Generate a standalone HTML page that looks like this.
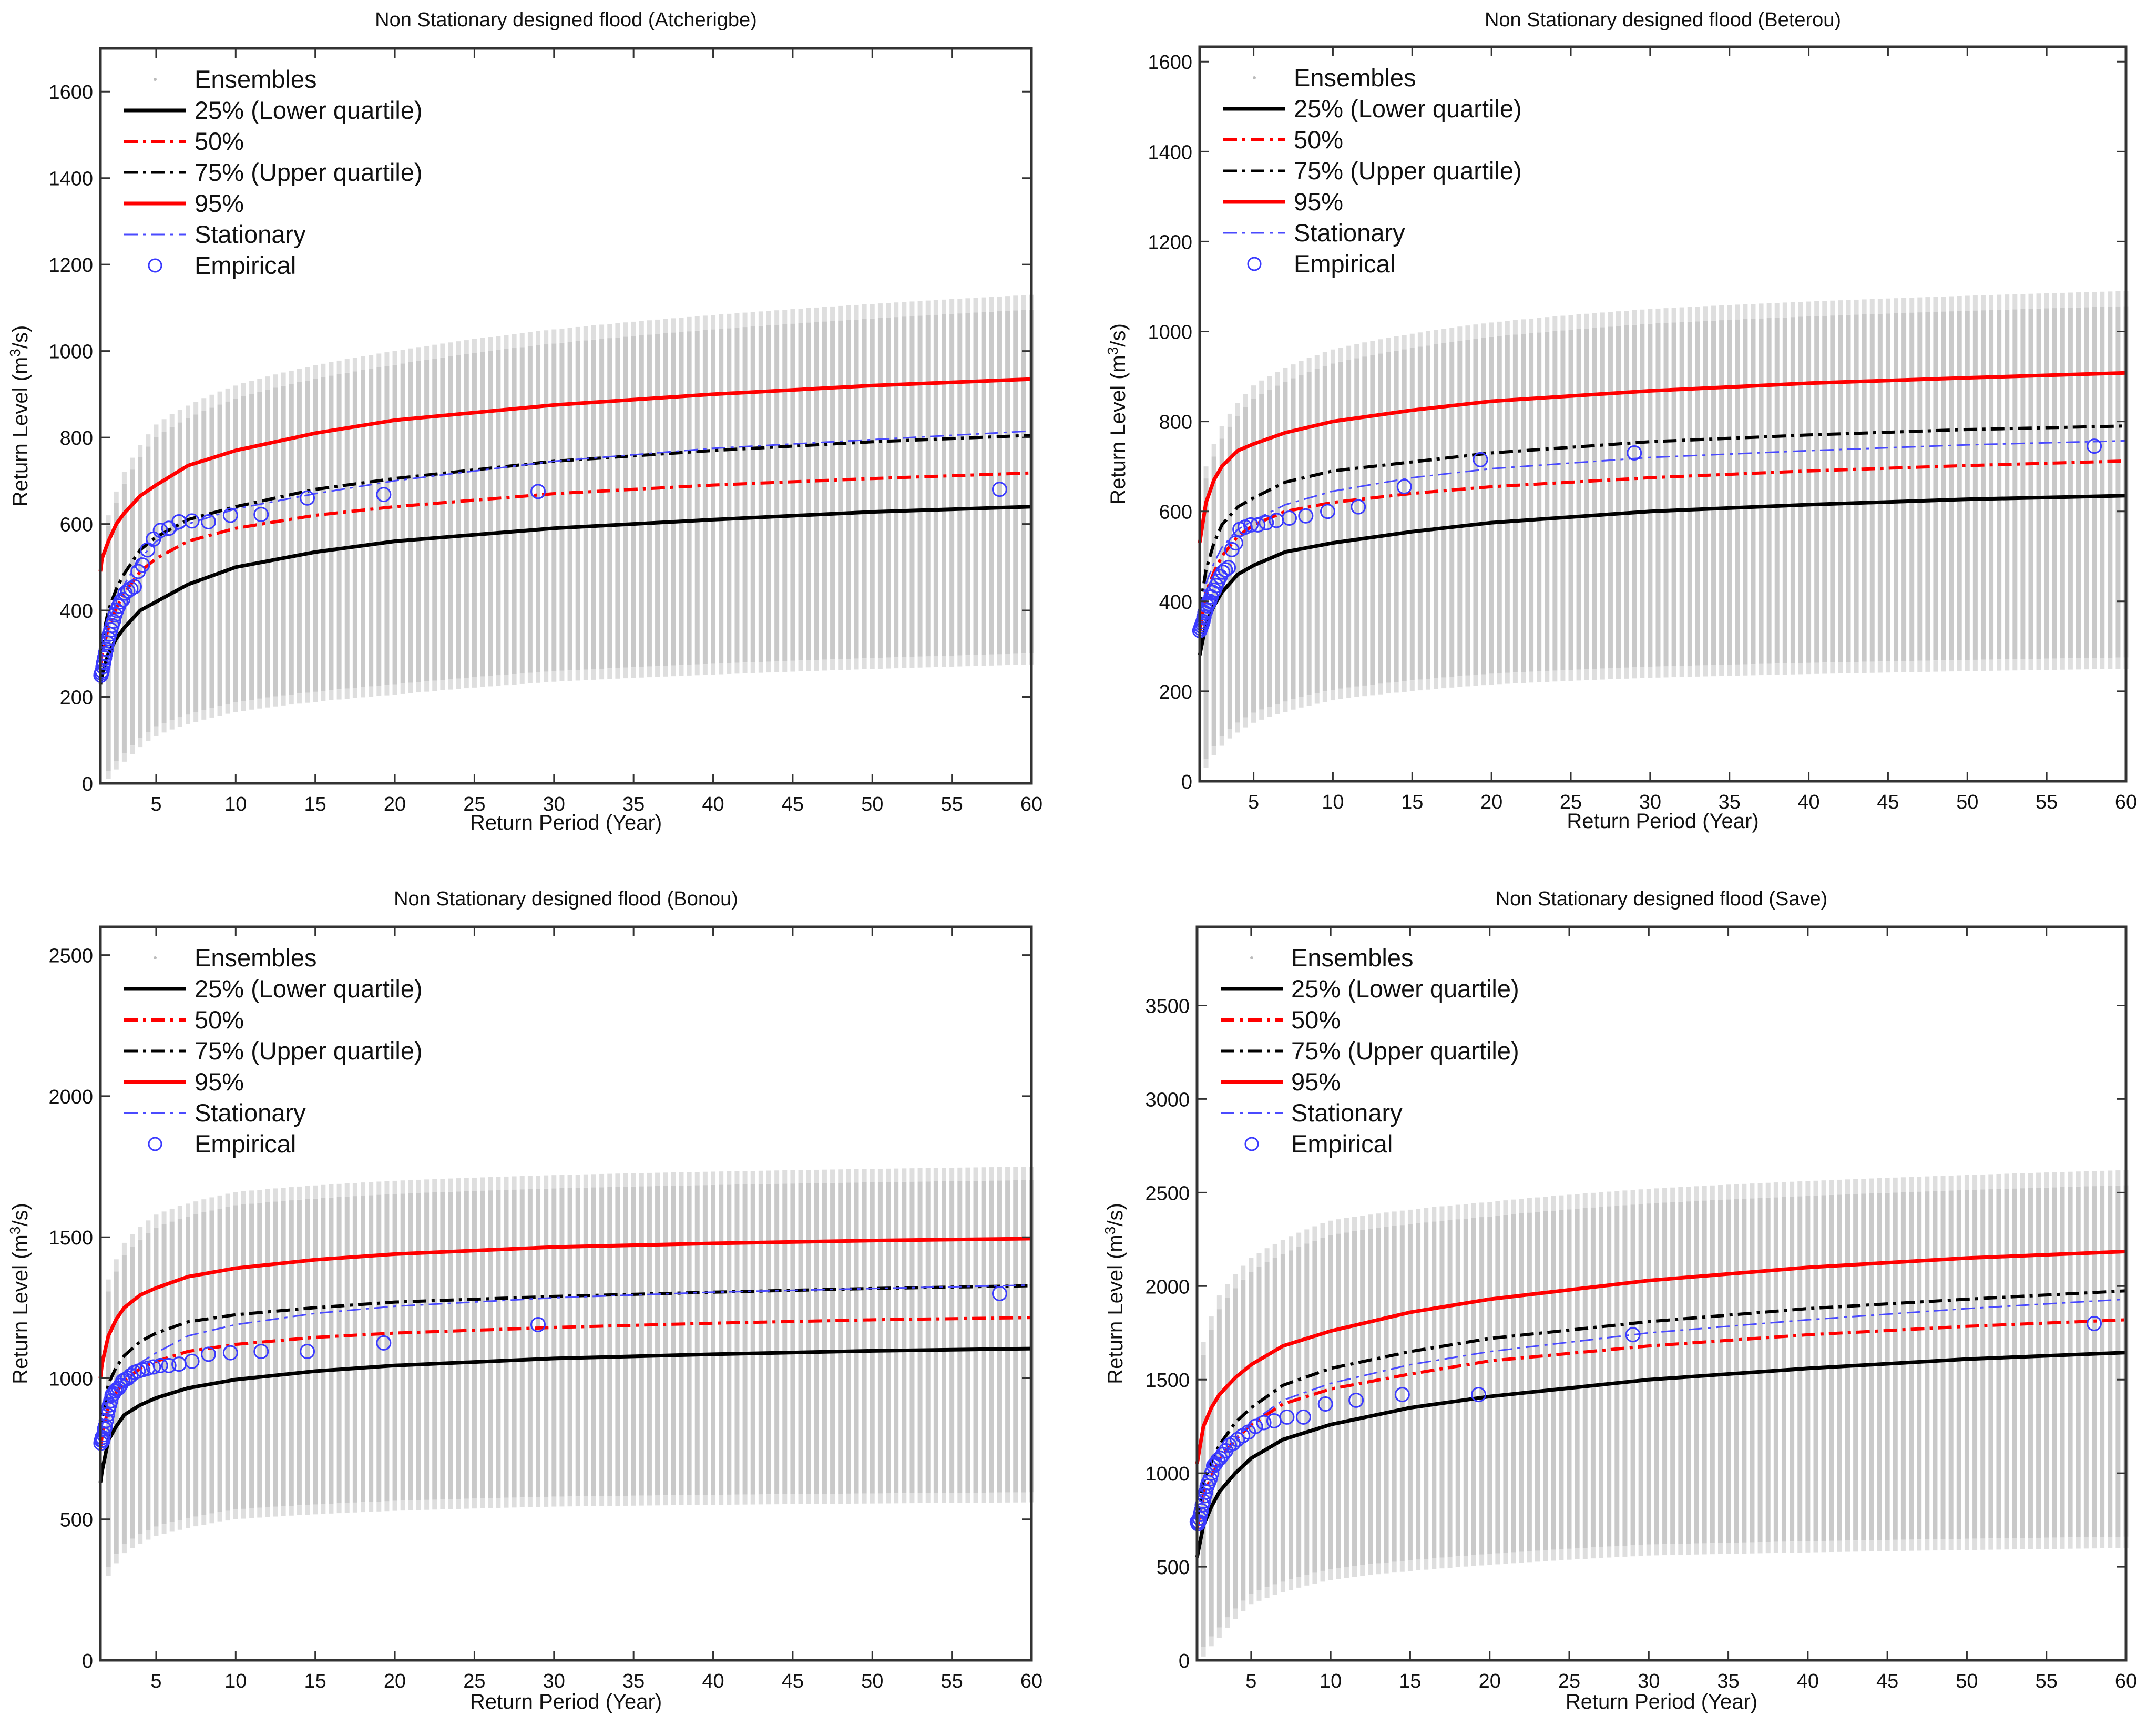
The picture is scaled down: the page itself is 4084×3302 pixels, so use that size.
<!DOCTYPE html>
<html><head><meta charset="utf-8"><style>
html,body{margin:0;padding:0;background:#fff;}
svg{display:block;font-family:"Liberation Sans",Arial,sans-serif;}
</style></head><body>
<svg id="fig" width="4084" height="3302" viewBox="0 0 4084 3302" xmlns="http://www.w3.org/2000/svg"></svg>
<script>
// ---- shared data ----
const curveX = [1.5,1.6,2,2.5,3,4,5,7,10,15,20,30,40,50,60];
const ensKeyX = [2,3,5,10,20,30,60];
const ensCols = [];
for (let c = 2; c <= 120; c++) ensCols.push(c / 2);
const empX = [58,29,19.3,14.5,11.6,9.67,8.29,7.25,6.44,5.8,5.27,4.83,4.46,4.14,3.87,3.63,3.41,3.22,3.05,2.9,2.76,2.64,2.52,2.42,2.32,2.23,2.15,2.07,2.0,1.93,1.87,1.81,1.76,1.71,1.66,1.61,1.57,1.53];
const xTicks = [5,10,15,20,25,30,35,40,45,50,55,60];

// ---- Atcherigbe ----
const atc95 = [490,520,560,600,625,665,690,735,770,810,840,875,900,920,935];
const atc75 = [300,330,400,450,485,540,570,610,640,680,705,745,770,790,805];
const atc50 = [270,300,360,405,440,490,520,560,590,620,640,670,690,705,718];
const atc25 = [230,250,300,335,360,400,420,460,500,535,560,590,610,628,640];
const atcSt = [260,300,370,420,460,520,560,600,635,670,700,745,775,795,815];
const atcEnsHi = [620,720,830,920,1000,1050,1130];
const atcEnsLo = [10,50,110,165,205,235,275];
const atcEmp = [680,675,668,660,622,620,605,607,605,590,585,565,540,505,490,455,450,445,440,425,420,410,400,390,375,365,355,345,335,325,310,300,290,280,270,260,255,250];
const atcYTicks = [0,200,400,600,800,1000,1200,1400,1600];

// ---- Beterou ----
const bet95 = [520,530,620,670,700,735,750,775,800,825,845,868,885,897,908];
const bet75 = [360,380,470,530,570,610,630,665,690,710,730,755,770,782,790];
const bet50 = [310,330,420,465,500,545,570,600,620,640,655,675,690,702,712];
const bet25 = [260,280,350,390,420,460,480,510,530,555,575,600,615,627,635];
const betSt = [360,380,440,485,520,560,580,615,645,675,695,720,735,748,757];
const betEnsHi = [700,790,880,960,1020,1050,1090];
const betEnsLo = [30,80,130,180,215,230,250];
const betEmp = [745,730,715,655,610,600,590,585,580,575,570,570,565,560,530,515,475,470,465,455,445,435,425,420,410,400,395,390,380,375,365,355,350,345,340,335,330,325];
const betYTicks = [0,200,400,600,800,1000,1200,1400,1600];

// ---- Bonou ----
const bon95 = [1000,1050,1150,1210,1250,1295,1320,1360,1390,1420,1440,1465,1478,1488,1495];
const bon75 = [800,850,980,1040,1080,1130,1160,1200,1225,1250,1270,1290,1305,1318,1328];
const bon50 = [750,790,900,950,990,1035,1060,1095,1120,1145,1160,1180,1195,1207,1215];
const bon25 = [630,670,780,830,870,905,930,965,995,1025,1045,1070,1085,1097,1105];
const bonSt = [800,830,920,965,1000,1055,1090,1150,1190,1230,1255,1285,1305,1318,1330];
const bonEnsHi = [1350,1480,1580,1660,1700,1720,1750];
const bonEnsLo = [300,380,440,500,530,545,560];
const bonEmp = [1300,1190,1125,1095,1095,1090,1085,1060,1050,1045,1045,1040,1035,1030,1025,1020,1010,1000,995,990,975,965,960,955,945,940,920,905,890,870,850,830,820,800,780,790,780,770];
const bonYTicks = [0,500,1000,1500,2000,2500];

// ---- Save ----
const sav95 = [1000,1050,1250,1350,1420,1510,1580,1680,1760,1860,1930,2030,2100,2150,2185];
const sav75 = [700,750,950,1060,1150,1270,1350,1470,1560,1650,1720,1810,1880,1930,1975];
const sav50 = [650,700,880,980,1070,1180,1260,1370,1450,1530,1600,1680,1740,1785,1820];
const sav25 = [500,550,720,820,900,1000,1080,1180,1260,1350,1410,1500,1560,1610,1645];
const savSt = [650,700,870,970,1060,1180,1270,1390,1480,1580,1650,1750,1820,1880,1930];
const savEnsHi = [1700,1950,2150,2350,2450,2520,2620];
const savEnsLo = [20,120,300,430,510,560,600];
const savEmp = [1800,1740,1420,1420,1390,1370,1300,1300,1280,1270,1250,1220,1200,1180,1160,1150,1120,1100,1080,1070,1050,1040,1000,970,950,930,900,880,850,830,800,780,760,740,730,740,730,720];
const savYTicks = [0,500,1000,1500,2000,2500,3000,3500];

const panels = [
  {id:'atcherigbe', title:'Non Stationary designed flood (Atcherigbe)', L:191,R:1962,T:92,B:1490,xmin:1.5,ymax:1700,
   p95:atc95,p75:atc75,p50:atc50,p25:atc25,st:atcSt,hi:atcEnsHi,lo:atcEnsLo,emp:atcEmp,yt:atcYTicks,titleY:50,xlY:1578,ylX:52},
  {id:'beterou', title:'Non Stationary designed flood (Beterou)', L:2282,R:4044,T:89,B:1486,xmin:1.6,ymax:1633,
   p95:bet95,p75:bet75,p50:bet50,p25:bet25,st:betSt,hi:betEnsHi,lo:betEnsLo,emp:betEmp,yt:betYTicks,titleY:50,xlY:1575,ylX:2140},
  {id:'bonou', title:'Non Stationary designed flood (Bonou)', L:191,R:1962,T:1763,B:3158,xmin:1.5,ymax:2600,
   p95:bon95,p75:bon75,p50:bon50,p25:bon25,st:bonSt,hi:bonEnsHi,lo:bonEnsLo,emp:bonEmp,yt:bonYTicks,titleY:1722,xlY:3250,ylX:52},
  {id:'save', title:'Non Stationary designed flood (Save)', L:2277,R:4044,T:1763,B:3158,xmin:1.6,ymax:3920,
   p95:sav95,p75:sav75,p50:sav50,p25:sav25,st:savSt,hi:savEnsHi,lo:savEnsLo,emp:savEmp,yt:savYTicks,titleY:1722,xlY:3250,ylX:2135}
];

const NS = 'http://www.w3.org/2000/svg';
const svg = document.getElementById('fig');
function mk(tag, attrs, parent){
  const e = document.createElementNS(NS, tag);
  for (const k in attrs) e.setAttribute(k, attrs[k]);
  (parent||svg).appendChild(e);
  return e;
}
function interp(xs, ys, x){
  if (x <= xs[0]) return ys[0];
  for (let i=1;i<xs.length;i++){
    if (x <= xs[i]){
      const t = (Math.log(x)-Math.log(xs[i-1]))/(Math.log(xs[i])-Math.log(xs[i-1]));
      return ys[i-1] + t*(ys[i]-ys[i-1]);
    }
  }
  return ys[ys.length-1];
}

panels.forEach(p => {
  const g = mk('g', {});
  
  
  const sx = v => p.L + (v - p.xmin) * (p.R - p.L) / (60 - p.xmin);
  const sy = v => p.B - v * (p.B - p.T) / p.ymax;

  // ensembles
  const eg = mk('g', {}, g);
  
  
  ensCols.forEach(c => {
    if (c < p.xmin + 0.2) return;
    const hi = interp(ensKeyX, p.hi, c), lo = interp(ensKeyX, p.lo, c);
    const x = sx(c);
    const span = hi - lo;
    const r = mk('rect', {x:x-4.5, y:sy(hi - span*0.04), width:9, height:sy(lo + span*0.03) - sy(hi - span*0.04), fill:'#c9c9c9'}, eg);
    
    
    const r2 = mk('rect', {x:x-4.5, y:sy(hi), width:9, height:sy(hi - span*0.04) - sy(hi), fill:'#dedede'}, eg);
    
    
    const r3 = mk('rect', {x:x-4.5, y:sy(lo + span*0.03), width:9, height:sy(lo) - sy(lo + span*0.03), fill:'#dedede'}, eg);
    
    
  });

  const line = (vals, attrs, name) => {
    const pts = curveX.filter(x => x >= p.xmin).map(x => sx(x).toFixed(1) + ',' + sy(vals[curveX.indexOf(x)]).toFixed(1)).join(' ');
    const l = mk('polyline', Object.assign({points:pts, fill:'none', 'stroke-linejoin':'round'}, attrs), g);
    
    
  };
  line(p.p25, {stroke:'#000', 'stroke-width':7}, 'line-25-percent');
  line(p.p50, {stroke:'#ff0000', 'stroke-width':6, 'stroke-dasharray':'26,10,6,10'}, 'line-50-percent');
  line(p.p75, {stroke:'#000', 'stroke-width':6, 'stroke-dasharray':'26,10,6,10'}, 'line-75-percent');
  line(p.p95, {stroke:'#ff0000', 'stroke-width':7}, 'line-95-percent');
  line(p.st, {stroke:'#4a4aff', 'stroke-width':3, 'stroke-dasharray':'26,10,6,10'}, 'line-stationary');

  // empirical
  empX.forEach((x,i) => {
    if (x < p.xmin) return;
    const c = mk('circle', {cx:sx(x), cy:sy(p.emp[i]), r:13, fill:'none', stroke:'#3a3aff', 'stroke-width':3}, g);
    
    
  });

  // axes box
  const box = mk('rect', {x:p.L, y:p.T, width:p.R-p.L, height:p.B-p.T, fill:'none', stroke:'#333', 'stroke-width':5}, g);
  
  

  xTicks.forEach(t => {
    const x = sx(t);
    mk('line', {x1:x, x2:x, y1:p.B, y2:p.B-18, stroke:'#333', 'stroke-width':3}, g);
    mk('line', {x1:x, x2:x, y1:p.T, y2:p.T+18, stroke:'#333', 'stroke-width':3}, g);
    const tx = mk('text', {x:x, y:p.B+52, 'font-size':38, 'text-anchor':'middle', fill:'#111'}, g);
    tx.textContent = t;
    
    
  });
  p.yt.forEach(t => {
    const y = sy(t);
    mk('line', {x1:p.L, x2:p.L+18, y1:y, y2:y, stroke:'#333', 'stroke-width':3}, g);
    mk('line', {x1:p.R, x2:p.R-18, y1:y, y2:y, stroke:'#333', 'stroke-width':3}, g);
    const tx = mk('text', {x:p.L-14, y:y+14, 'font-size':38, 'text-anchor':'end', fill:'#111'}, g);
    tx.textContent = t;
    
    
  });

  const ti = mk('text', {x:(p.L+p.R)/2, y:p.titleY, 'font-size':38, 'text-anchor':'middle', fill:'#111'}, g);
  ti.textContent = p.title;
  
  
  const xl = mk('text', {x:(p.L+p.R)/2, y:p.xlY, 'font-size':40, 'text-anchor':'middle', fill:'#111'}, g);
  xl.textContent = 'Return Period (Year)';
  
  
  const cy = (p.T+p.B)/2;
  const yl = mk('text', {x:p.ylX, y:cy, 'font-size':40, 'text-anchor':'middle', fill:'#111', transform:'rotate(-90 '+p.ylX+' '+cy+')'}, g);
  yl.innerHTML = 'Return Level (m<tspan dy="-14" font-size="28">3</tspan><tspan dy="14">/s)</tspan>';
  
  

  // legend
  const lg = mk('g', {}, g);
  
  
  const labels = ['Ensembles','25% (Lower quartile)','50%','75% (Upper quartile)','95%','Stationary','Empirical'];
  const styles = [null,
    {stroke:'#000','stroke-width':7},
    {stroke:'#ff0000','stroke-width':6,'stroke-dasharray':'26,10,6,10'},
    {stroke:'#000','stroke-width':5,'stroke-dasharray':'26,10,6,10'},
    {stroke:'#ff0000','stroke-width':7},
    {stroke:'#4a4aff','stroke-width':3,'stroke-dasharray':'26,10,6,10'},
    null];
  labels.forEach((lab,i) => {
    const y = p.T + 59 + 59*i;
    if (i === 0) mk('circle', {cx:p.L+104, cy:y, r:3, fill:'#bbb'}, lg);
    else if (i === 6) mk('circle', {cx:p.L+104, cy:y, r:12, fill:'none', stroke:'#3a3aff','stroke-width':3}, lg);
    else mk('line', Object.assign({x1:p.L+45, x2:p.L+163, y1:y, y2:y}, styles[i]), lg);
    const t = mk('text', {x:p.L+179, y:y+16, 'font-size':47, fill:'#111'}, lg);
    t.textContent = lab;
    
    
  });
});
</script>
</body></html>
